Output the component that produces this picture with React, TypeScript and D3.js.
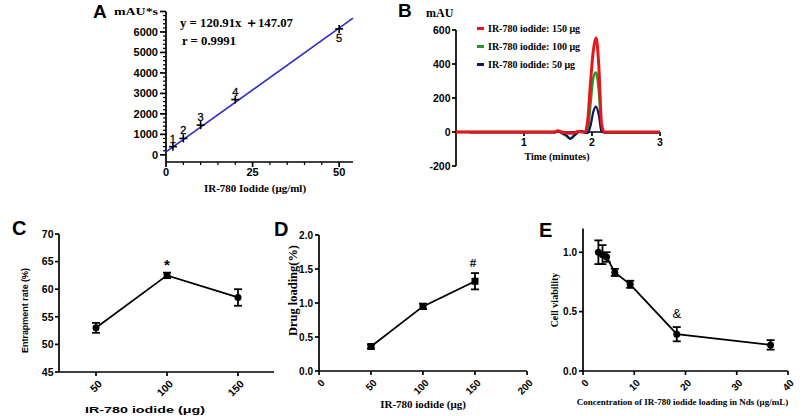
import * as d3 from 'd3';

const SANS = "'Liberation Sans', Arial, sans-serif";
const SERIF = "'Liberation Serif', 'Times New Roman', serif";

// A: calibration curve
const calConc = [2, 5, 10, 20, 50];
const calArea = [400, 800, 1450, 2700, 6150];
const calLabels = ['1', '2', '3', '4', '5'];
const fitLine = [
  { x: 0, y: 147.07 },
  { x: 54, y: 6676 },
];
const calYTicks = [0, 1000, 2000, 3000, 4000, 5000, 6000];
const calXTicks = [0, 25, 50];

// B: chromatograms
const chromTime = [0, 0.2, 1.45, 1.5, 1.55, 1.62, 1.68, 1.74, 1.8, 1.85, 1.9, 1.94, 1.98, 2.02, 2.06, 2.1, 2.14, 2.18, 2.25, 3.0];
const chrom150 = [0, 0, 0, 8, 0, -5, -8, -5, 5, 0, 0, 80, 300, 480, 555, 390, 50, 0, 0, 0];
const chrom100 = [0, 0, 0, 5, -5, -22, -38, -20, 0, 5, -5, 15, 170, 320, 350, 240, 25, -3, -4, -4];
const chrom50 = [null, -3, -3, 3, -5, -18, -40, -20, 0, 5, -5, -5, 40, 120, 150, 100, 2, -3, -3, -3];
const chromLegend = ['IR-780 iodide: 150 μg', 'IR-780 iodide: 100 μg', 'IR-780 iodide: 50 μg'];
const chromColors = ['#e8161c', '#1f9a22', '#12125e'];
const chromYTicks = [-200, 0, 200, 400, 600];
const chromXTicks = [1, 2, 3];

// C: entrapment rate
const doseC = [50, 100, 150];
const entrapMean = [53.0, 62.5, 58.5];
const entrapErr = [0.9, 0.5, 1.5];
const entrapYTicks = [45, 50, 55, 60, 65, 70];

// D: drug loading
const doseD = [50, 100, 150];
const loadMean = [0.36, 0.95, 1.32];
const loadErr = [0.03, 0.04, 0.12];
const loadYTicks = [0, 0.5, 1, 1.5, 2];
const loadXTicks = [0, 50, 100, 150, 200];

// E: cell viability
const concE = [3.0, 3.8, 4.6, 6.2, 9.2, 18.3, 36.6];
const viabMean = [1.0, 0.98, 0.96, 0.83, 0.73, 0.31, 0.22];
const viabErr = [0.1, 0.08, 0.04, 0.03, 0.03, 0.06, 0.04];
const viabYTicks = [0, 0.5, 1];
const viabXTicks = [0, 10, 20, 30, 40];

const AX = 1.7;

type Scale = d3.ScaleLinear<number, number>;

function YAxis({ s, x, ticks, minor = [], fmt, size, len = 5, gap = 2, family = SANS }: any) {
  const [r0, r1] = s.range();
  return (
    <g>
      <line x1={x} x2={x} y1={r0} y2={r1} stroke="#000" strokeWidth={AX} />
      {minor.map((t: number) => (
        <line key={'m' + t} x1={x - 3} x2={x} y1={s(t)} y2={s(t)} stroke="#000" strokeWidth={1.2} />
      ))}
      {ticks.map((t: number) => (
        <g key={t}>
          <line x1={x - len} x2={x} y1={s(t)} y2={s(t)} stroke="#000" strokeWidth={AX} />
          <text x={x - len - gap} y={s(t)} dy="0.36em" textAnchor="end" fontSize={size} fontWeight="bold" fontFamily={family}>
            {fmt(t)}
          </text>
        </g>
      ))}
    </g>
  );
}

// rotated (-45°) tick label, anchored at its upper-right end
function RotLabel({ x, y, size, children }: any) {
  return (
    <g transform={`translate(${x},${y}) rotate(-45)`}>
      <text x={0} y={0} dy="0.36em" textAnchor="end" fontSize={size} fontWeight="bold" fontFamily={SANS}>
        {children}
      </text>
    </g>
  );
}

function XAxisRot({ s, y, ticks, size }: { s: Scale; y: number; ticks: number[]; size: number }) {
  const [r0, r1] = s.range();
  return (
    <g>
      <line x1={r0} x2={r1} y1={y} y2={y} stroke="#000" strokeWidth={AX} />
      {ticks.map((t) => (
        <g key={t}>
          <line x1={s(t)} x2={s(t)} y1={y} y2={y + 4} stroke="#000" strokeWidth={AX} />
          <RotLabel x={s(t) + 4} y={y + 10} size={size}>{t}</RotLabel>
        </g>
      ))}
    </g>
  );
}

function ErrorPoints({ xs, ys, es, sx, sy, marker, cap = 4 }: any) {
  const line = d3
    .line<number>()
    .x((_, i) => sx(xs[i]))
    .y((d) => sy(d));
  return (
    <g>
      <path d={line(ys) ?? ''} fill="none" stroke="#000" strokeWidth={1.8} />
      {ys.map((v: number, i: number) => {
        const cx = sx(xs[i]);
        const hi = sy(v + es[i]);
        const lo = sy(v - es[i]);
        return (
          <g key={i} stroke="#000" strokeWidth={1.8}>
            <line x1={cx} x2={cx} y1={hi} y2={lo} />
            <line x1={cx - cap} x2={cx + cap} y1={hi} y2={hi} />
            <line x1={cx - cap} x2={cx + cap} y1={lo} y2={lo} />
            {marker === 'square' ? (
              <rect x={cx - 3.5} y={sy(v) - 3.5} width={7} height={7} fill="#000" stroke="none" />
            ) : (
              <circle cx={cx} cy={sy(v)} r={3.5} fill="#000" stroke="none" />
            )}
          </g>
        );
      })}
    </g>
  );
}

function PanelA() {
  const sx = d3.scaleLinear().domain([0, 54]).range([166, 353]);
  const sy = d3.scaleLinear().domain([-350, 7000]).range([162, 11.5]);
  const minorY = d3.range(200, 7000, 200).filter((v) => v % 1000 !== 0);
  const minorX = d3.range(5, 54, 5).filter((v) => v % 25 !== 0);
  const fit = d3
    .line<{ x: number; y: number }>()
    .x((d) => sx(d.x))
    .y((d) => sy(d.y));
  return (
    <g>
      <text x={93} y={17.5} fontSize={19} fontWeight="bold" fontFamily={SANS}>A</text>
      <YAxis s={sy} x={166} ticks={calYTicks} minor={minorY} fmt={(t: number) => t} size={11} len={6} gap={2} />
      <line x1={160} x2={166} y1={sy(7000)} y2={sy(7000)} stroke="#000" strokeWidth={AX} />
      <text x={158} y={sy(7000)} dy="0.3em" textAnchor="end" fontSize={10} fontWeight="bold" fontFamily={SERIF} textLength={44} lengthAdjust="spacingAndGlyphs">
        mAU*s
      </text>
      <line x1={166} x2={353} y1={162} y2={162} stroke="#000" strokeWidth={AX} />
      {minorX.map((t) => (
        <line key={t} x1={sx(t)} x2={sx(t)} y1={162} y2={165} stroke="#000" strokeWidth={1.2} />
      ))}
      {calXTicks.map((t) => (
        <g key={t}>
          <line x1={sx(t)} x2={sx(t)} y1={162} y2={167} stroke="#000" strokeWidth={AX} />
          <text x={sx(t)} y={176} textAnchor="middle" fontSize={11} fontWeight="bold" fontFamily={SANS}>{t}</text>
        </g>
      ))}
      <text x={255} y={192} textAnchor="middle" fontSize={11} fontWeight="bold" fontFamily={SERIF}>IR-780 Iodide (μg/ml)</text>
      <path d={fit(fitLine) ?? ''} stroke="#2b2bc8" strokeWidth={1.6} fill="none" />
      {calConc.map((c, i) => {
        const px = sx(c);
        const py = sy(calArea[i]);
        return (
          <g key={c}>
            <line x1={px - 4} x2={px + 4} y1={py} y2={py} stroke="#000" strokeWidth={1.6} />
            <line x1={px} x2={px} y1={py - 4} y2={py + 4} stroke="#000" strokeWidth={1.6} />
            <text x={px} y={i === 4 ? py + 13 : py - 4} textAnchor="middle" fontSize={11} fontFamily={SANS} stroke="#000" strokeWidth={0.3}>
              {calLabels[i]}
            </text>
          </g>
        );
      })}
      <text x={180} y={27} fontSize={12.5} fontWeight="bold" fontFamily={SERIF} textLength={113} lengthAdjust="spacingAndGlyphs">
        y = 120.91x ＋147.07
      </text>
      <text x={182} y={45} fontSize={12.5} fontWeight="bold" fontFamily={SERIF} textLength={54} lengthAdjust="spacingAndGlyphs">
        r = 0.9991
      </text>
    </g>
  );
}

function PanelB() {
  const sx = d3.scaleLinear().domain([0, 3]).range([456, 660]);
  const sy = d3.scaleLinear().domain([-200, 600]).range([166, 30]);
  const series = [chrom100, chrom50, chrom150];
  const cols = [chromColors[1], chromColors[2], chromColors[0]];
  const widths = [2.4, 2.2, 3];
  const line = d3
    .line<number | null>()
    .defined((d) => d !== null)
    .x((_, i) => sx(chromTime[i]))
    .y((d) => sy(d as number))
    .curve(d3.curveMonotoneX);
  return (
    <g>
      <text x={398} y={17} fontSize={19} fontWeight="bold" fontFamily={SANS}>B</text>
      <text x={426} y={17} fontSize={12} fontWeight="bold" fontFamily={SERIF}>mAU</text>
      <YAxis s={sy} x={456} ticks={chromYTicks} fmt={(t: number) => t} size={10.5} len={4} gap={1.5} />
      <line x1={sx(0)} x2={sx(3)} y1={sy(0)} y2={sy(0)} stroke="#000" strokeWidth={AX} />
      {chromXTicks.map((t) => (
        <g key={t}>
          <line x1={sx(t)} x2={sx(t)} y1={sy(0)} y2={sy(0) + 4} stroke="#000" strokeWidth={AX} />
          <text x={sx(t)} y={146} textAnchor="middle" fontSize={10.5} fontWeight="bold" fontFamily={SANS}>{t}</text>
        </g>
      ))}
      <text x={557} y={160} textAnchor="middle" fontSize={10} fontWeight="bold" fontFamily={SERIF}>Time (minutes)</text>
      {series.map((s, k) => (
        <path key={k} d={line(s) ?? ''} fill="none" stroke={cols[k]} strokeWidth={widths[k]} strokeLinejoin="round" />
      ))}
      {chromLegend.map((lab, i) => (
        <g key={lab}>
          <line x1={477} x2={484} y1={28.5 + i * 18} y2={28.5 + i * 18} stroke={chromColors[i]} strokeWidth={3} />
          <text x={488} y={32 + i * 18} fontSize={10} fontWeight="bold" fontFamily={SERIF}>{lab}</text>
        </g>
      ))}
    </g>
  );
}

function PanelC() {
  const sx = d3.scaleLinear().domain([25, 175]).range([60.5, 273.5]);
  const sy = d3.scaleLinear().domain([45, 70]).range([372, 234]);
  return (
    <g>
      <text x={12} y={235} fontSize={20} fontWeight="bold" fontFamily={SANS}>C</text>
      <YAxis s={sy} x={59} ticks={entrapYTicks} fmt={(t: number) => t} size={10.5} len={4} gap={1.5} />
      <line x1={59} x2={274} y1={372} y2={372} stroke="#000" strokeWidth={AX} />
      {doseC.map((t) => (
        <g key={t}>
          <line x1={sx(t)} x2={sx(t)} y1={372} y2={376} stroke="#000" strokeWidth={AX} />
          <RotLabel x={sx(t) + 4} y={382} size={10.5}>{t}</RotLabel>
        </g>
      ))}
      <text x={145} y={412.5} textAnchor="middle" fontSize={9.5} fontWeight="bold" fontFamily={SANS} textLength={120} lengthAdjust="spacingAndGlyphs">
        IR-780 iodide (μg)
      </text>
      <text transform="translate(28,310.5) rotate(-90)" textAnchor="middle" fontSize={9.5} fontWeight="bold" fontFamily={SANS} textLength={85} lengthAdjust="spacingAndGlyphs">
        Entrapment  rate (%)
      </text>
      <ErrorPoints xs={doseC} ys={entrapMean} es={entrapErr} sx={sx} sy={sy} marker="circle" />
      <text x={sx(100)} y={270} textAnchor="middle" fontSize={15} fontWeight="bold" fontFamily={SANS}>*</text>
    </g>
  );
}

function PanelD() {
  const sx = d3.scaleLinear().domain([0, 200]).range([319, 527]);
  const sy = d3.scaleLinear().domain([0, 2]).range([371, 235]);
  return (
    <g>
      <text x={274} y={236} fontSize={20} fontWeight="bold" fontFamily={SANS}>D</text>
      <YAxis s={sy} x={319} ticks={loadYTicks} fmt={d3.format('.1f')} size={10} len={4} gap={2} />
      <XAxisRot s={sx} y={371} ticks={loadXTicks} size={10} />
      <text x={423} y={407.5} textAnchor="middle" fontSize={11} fontWeight="bold" fontFamily={SERIF}>IR-780 iodide (μg)</text>
      <text transform="translate(297,290.5) rotate(-90)" textAnchor="middle" fontSize={11.5} fontWeight="bold" fontFamily={SERIF} textLength={91} lengthAdjust="spacingAndGlyphs">
        Drug loading(%)
      </text>
      <ErrorPoints xs={doseD} ys={loadMean} es={loadErr} sx={sx} sy={sy} marker="square" />
      <text x={sx(150) - 2} y={267} textAnchor="middle" fontSize={13} fontWeight="bold" fontFamily={SERIF}>#</text>
    </g>
  );
}

function PanelE() {
  const sx = d3.scaleLinear().domain([0, 40]).range([583, 788]);
  const sy = d3.scaleLinear().domain([0, 1.2]).range([371, 228.5]);
  return (
    <g>
      <text x={539} y={237} fontSize={20} fontWeight="bold" fontFamily={SANS}>E</text>
      <YAxis s={sy} x={583} ticks={viabYTicks} fmt={d3.format('.1f')} size={10} len={4} gap={2} />
      <XAxisRot s={sx} y={371} ticks={viabXTicks} size={10} />
      <text x={682.5} y={405} textAnchor="middle" fontSize={9} fontWeight="bold" fontFamily={SERIF}>
        Concentration of IR-780 iodide loading in Nds (μg/mL)
      </text>
      <text transform="translate(558,300) rotate(-90)" textAnchor="middle" fontSize={10} fontWeight="bold" fontFamily={SERIF}>
        Cell viability
      </text>
      <ErrorPoints xs={concE} ys={viabMean} es={viabErr} sx={sx} sy={sy} marker="circle" />
      <text x={sx(18.3)} y={318} textAnchor="middle" fontSize={13} fontFamily={SANS}>&amp;</text>
    </g>
  );
}

export default function App() {
  return (
    <svg width={810} height={416} style={{ position: 'absolute', left: 0, top: 0, background: '#fff' }}>
      <PanelA />
      <PanelB />
      <PanelC />
      <PanelD />
      <PanelE />
    </svg>
  );
}
